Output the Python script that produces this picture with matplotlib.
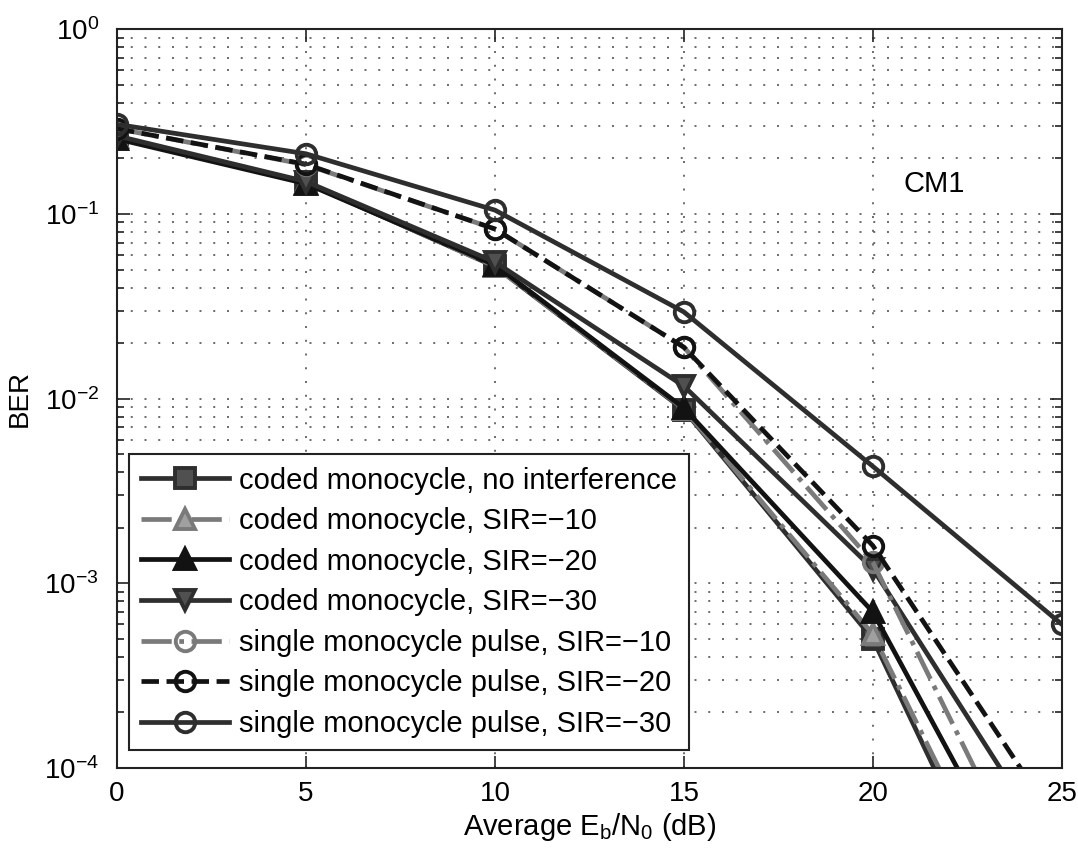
import matplotlib
matplotlib.use("Agg")
import matplotlib.pyplot as plt
from matplotlib.ticker import LogLocator, NullFormatter, FixedLocator

plt.rcParams['font.family'] = ['Liberation Sans', 'DejaVu Sans']
plt.rcParams['mathtext.fontset'] = 'custom'
plt.rcParams['mathtext.rm'] = 'Liberation Sans'
plt.rcParams['mathtext.it'] = 'Liberation Sans'
plt.rcParams['mathtext.bf'] = 'Liberation Sans'

# ---- data ----
ebn0 = [0, 5, 10, 15, 20, 25]
coded_none = [0.26, 0.148, 0.052, 0.0087, 5.0e-4, 3.5e-6]
coded_sir10 = [0.26, 0.148, 0.052, 0.0088, 5.3e-4, 4.5e-6]
coded_sir20 = [0.255, 0.146, 0.053, 0.0089, 7.0e-4, 9.0e-6]
coded_sir30 = [0.265, 0.150, 0.055, 0.0117, 1.2e-3, 3.0e-5]
single_sir10 = [0.29, 0.185, 0.083, 0.019, 1.3e-3, 1.1e-5]
single_sir20 = [0.29, 0.186, 0.083, 0.019, 1.6e-3, 4.6e-5]
single_sir30 = [0.306, 0.212, 0.105, 0.0295, 4.3e-3, 6.0e-4]

labels = [
    "coded monocycle, no interference",
    "coded monocycle, SIR=\u221210",
    "coded monocycle, SIR=\u221220",
    "coded monocycle, SIR=\u221230",
    "single monocycle pulse, SIR=\u221210",
    "single monocycle pulse, SIR=\u221220",
    "single monocycle pulse, SIR=\u221230",
]
xticks = [0, 5, 10, 15, 20, 25]

fig = plt.figure(figsize=(10.78, 8.51), dpi=100)
ax = fig.add_axes([0.1085, 0.0975, 0.8765, 0.868])

dark = '#2e2e2e'
black = '#121212'
gray = '#7a7a7a'
lw = 3.4
ms = 14
mew = 2.8

series = [
    (coded_none, dict(color=dark, ls='-', marker='s', mfc='#505050', mec=dark)),
    (coded_sir10, dict(color=gray, ls='-.', marker='^', mfc='#a0a0a0', mec=gray)),
    (coded_sir20, dict(color=black, ls='-', marker='^', mfc=black, mec=black)),
    (coded_sir30, dict(color=dark, ls='-', marker='v', mfc='#505050', mec=dark)),
    (single_sir10, dict(color=gray, ls='-.', marker='o', mfc='none', mec=gray)),
    (single_sir20, dict(color=black, ls='--', marker='o', mfc='none', mec=black)),
    (single_sir30, dict(color=dark, ls='-', marker='o', mfc='none', mec=dark)),
]
for (vals, st), lab in zip(series, labels):
    ax.semilogy(ebn0, vals, lw=lw, ms=ms, mew=mew, label=lab, **st)

ax.set_xlim(0, 25)
ax.set_ylim(1e-4, 1)
ax.xaxis.set_major_locator(FixedLocator(xticks))
ax.yaxis.set_major_locator(LogLocator(base=10, numticks=10))
ax.yaxis.set_minor_locator(LogLocator(base=10, subs=range(2, 10), numticks=20))
ax.yaxis.set_minor_formatter(NullFormatter())

grid_ls = (0, (1.3, 7.7))
ax.grid(True, which='major', axis='both', color='#444444', ls=grid_ls, lw=1.1)
ax.grid(True, which='minor', axis='y', color='#444444', ls=grid_ls, lw=1.1)

ax.tick_params(which='both', direction='in', top=True, right=True, labelsize=20,
               color='#222222', width=1.2)
ax.tick_params(which='major', length=9)
ax.tick_params(which='minor', length=5)
ax.tick_params(axis='x', which='major', pad=9)
ax.tick_params(axis='y', which='major', pad=13)
for s in ax.spines.values():
    s.set_linewidth(1.5)
    s.set_color('#222222')

ax.set_xlabel("Average E$_\\mathregular{b}$/N$_\\mathregular{0}$ (dB)", fontsize=21, labelpad=3)
ax.set_ylabel("BER", fontsize=20, labelpad=8)
ax.text(20.8, 0.145, "CM1", fontsize=21, va='center', ha='left')

leg = ax.legend(loc='lower left', bbox_to_anchor=(0.0127, 0.0243), borderaxespad=0,
                fontsize=21, handlelength=3.0, handletextpad=0.35, labelspacing=0.43,
                fancybox=False, framealpha=1, edgecolor='#222222', borderpad=0.42)
leg.get_frame().set_linewidth(1.5)

fig.savefig("out.png", dpi=100)
